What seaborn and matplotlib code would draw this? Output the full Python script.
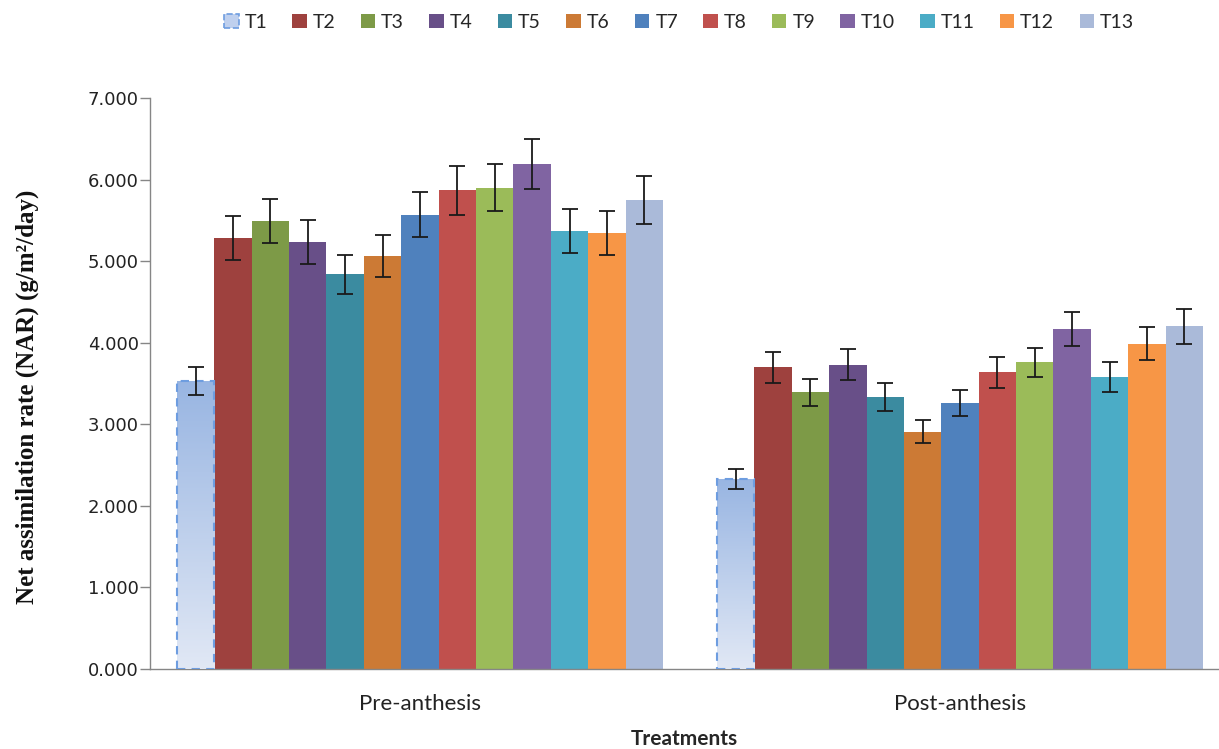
import numpy as np
import pandas as pd
import matplotlib
matplotlib.use("Agg")
import matplotlib.pyplot as plt
import seaborn as sns
from matplotlib.patches import Patch

# Data
stages = ['Pre-anthesis', 'Post-anthesis']
treatments = ['T1', 'T2', 'T3', 'T4', 'T5', 'T6', 'T7', 'T8', 'T9', 'T10', 'T11', 'T12', 'T13']
pre_vals = [3.53, 5.28, 5.49, 5.24, 4.84, 5.06, 5.57, 5.87, 5.90, 6.19, 5.37, 5.35, 5.75]
pre_err = [0.17, 0.27, 0.27, 0.27, 0.24, 0.26, 0.28, 0.30, 0.29, 0.31, 0.27, 0.27, 0.29]
post_vals = [2.33, 3.70, 3.39, 3.73, 3.33, 2.91, 3.26, 3.64, 3.76, 4.17, 3.58, 3.99, 4.20]
post_err = [0.12, 0.19, 0.17, 0.19, 0.17, 0.14, 0.16, 0.19, 0.18, 0.21, 0.18, 0.20, 0.21]

colors = ['#A7BFE6', '#9E413E', '#7D9A47', '#684F88', '#3B8BA0', '#CC7A35', '#4F81BD',
          '#C0504D', '#9BBB59', '#8064A2', '#4BACC6', '#F79646', '#AABAD9']

df = pd.DataFrame({
    'Stage': np.repeat(stages, len(treatments)),
    'Treatment': treatments * 2,
    'NAR': pre_vals + post_vals,
    'SE': pre_err + post_err,
})

sns.set_theme(style="white")
fig = plt.figure(figsize=(12.19, 7.49), dpi=100)
ax = fig.add_axes([0.123, 0.1068, 0.877, 0.7624])

sns.barplot(data=df, x='Stage', y='NAR', hue='Treatment', order=stages, hue_order=treatments,
            palette=colors, saturation=1, width=0.9, gap=0, errorbar=None, legend=False, ax=ax,
            linewidth=0)

# error bars and T1 styling
for i, t in enumerate(treatments):
    cont = ax.containers[i]
    sub = df[df['Treatment'] == t].set_index('Stage').loc[stages]
    xs = [p.get_x() + p.get_width() / 2 for p in cont.patches]
    ax.errorbar(xs, sub['NAR'], yerr=sub['SE'], fmt='none', ecolor='#1a1a1a',
                elinewidth=1.3, capsize=6, capthick=1.3, zorder=5)
    if t == 'T1':
        for p in cont.patches:
            p.set_facecolor('none')
            p.set_edgecolor('#6E9DE0')
            p.set_linestyle((0, (4, 3)))
            p.set_linewidth(1.5)
            p.set_zorder(4)
            x0, w, h = p.get_x(), p.get_width(), p.get_height()
            grad = np.linspace(0, 1, 256).reshape(-1, 1)
            cmap = matplotlib.colors.LinearSegmentedColormap.from_list('g', ['#E1E8F5', '#98B5E2'])
            im = ax.imshow(grad, extent=[x0, x0 + w, 0, h], origin='lower', cmap=cmap,
                           aspect='auto', zorder=3)
            im.set_clip_path(p)

ax.set_xlim(-0.5, -0.5 + 1069 / 540)
ax.set_ylim(0, 7)
ax.set_yticks(np.arange(0, 8, 1))
ax.set_yticklabels([f'{v:.3f}' for v in range(8)], fontsize=13, family='DejaVu Sans', color='#222222')
ax.set_xticks([0, 1])
ax.set_xticklabels(stages, fontsize=16, family='Lato', color='#222222')
ax.set_xticks([-0.5, 0.5], minor=True)
ax.tick_params(axis='x', which='major', length=0, pad=18)
ax.tick_params(axis='x', which='minor', length=10, width=1, color='#868686', direction='out')
ax.tick_params(axis='y', length=7, width=1, color='#868686', direction='out', left=True, pad=1)

for s in ['top', 'right']:
    ax.spines[s].set_visible(False)
for s in ['left', 'bottom']:
    ax.spines[s].set_color('#868686')
    ax.spines[s].set_linewidth(1)

ax.set_xlabel('Treatments', fontsize=15, fontweight='bold', family='Lato', labelpad=11)
ax.set_ylabel('Net assimilation rate (NAR) (g/m²/day)', fontsize=18, fontweight='bold',
              family='Liberation Serif')
ax.yaxis.set_label_coords(-0.104, 0.476)
ax.yaxis.label.set_color('#111111')

handles = []
for t, c in zip(treatments, colors):
    if t == 'T1':
        handles.append(Patch(facecolor='#BFD0EE', edgecolor='#6E9DE0', linestyle='--', linewidth=1.2))
    else:
        handles.append(Patch(facecolor=c, edgecolor='none'))
fig.legend(handles, treatments, loc='center', bbox_to_anchor=(0.557, 0.97), ncol=13,
           frameon=False, handlelength=0.75, handleheight=0.75,
           handletextpad=0.3, columnspacing=1.3, prop={'family': 'Lato', 'size': 14})

fig.savefig('out.png', dpi=100)
